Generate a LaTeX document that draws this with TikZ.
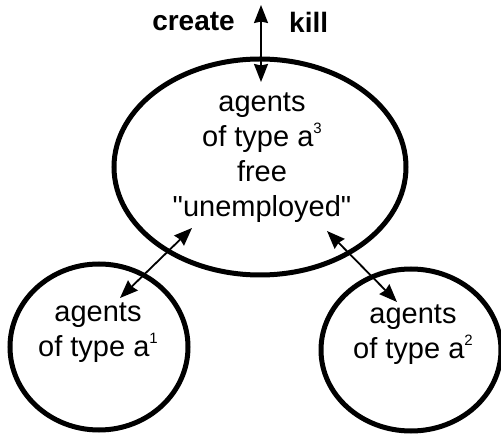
\documentclass[tikz,border=0pt]{standalone}
\usepackage{fontspec}
\setmainfont{Liberation Sans}
\usetikzlibrary{arrows.meta, shapes.geometric}

\newcommand{\typeidx}[1]{\raisebox{13pt}{\fontsize{15}{15}\selectfont #1}}

\begin{document}
\begin{tikzpicture}[x=1pt,y=-1pt,<->,>={Stealth[length=18pt,width=14pt,inset=1.5pt]},
		line width=1.8pt, every node/.style={font=\fontsize{29}{35}\selectfont, align=center}]
		\tikzstyle{pool}=[draw, ellipse, line width=5pt, inner sep=0pt]

		\useasboundingbox (0,0) rectangle (501,438);

		\node at (260,167) [pool,minimum width=292pt,minimum height=216pt] (free) {};
		\node at (99,347) [pool,minimum width=178pt,minimum height=166pt] (typeA) {};
		\node at (411,350) [pool,minimum width=180pt,minimum height=162pt] (typeB) {};

		\node at (262,158) (freeText) {agents\\of type a\typeidx{3}\\free\\\textquotedbl unemployed\textquotedbl};
		\node at (98,333) (typeAText) {agents\\of type a\typeidx{1}};
		\node at (413,335) (typeBText) {agents\\of type a\typeidx{2}};

		\node at (239,22) [anchor=east,font=\fontsize{28}{34}\bfseries] (create) {create};
		\node at (285,22) [anchor=west,font=\fontsize{28}{34}\bfseries] (kill) {kill};

		\coordinate (outside) at (261,5);
		\coordinate (inside) at (261,82);
		\coordinate (freeLeft) at (192,228);
		\coordinate (aLeft) at (120,298);
		\coordinate (freeRight) at (327,231);
		\coordinate (aRight) at (397,302);

		\path
		(outside) edge (inside)
		(freeLeft) edge (aLeft)
		(freeRight) edge (aRight);
	\end{tikzpicture}
\end{document}
